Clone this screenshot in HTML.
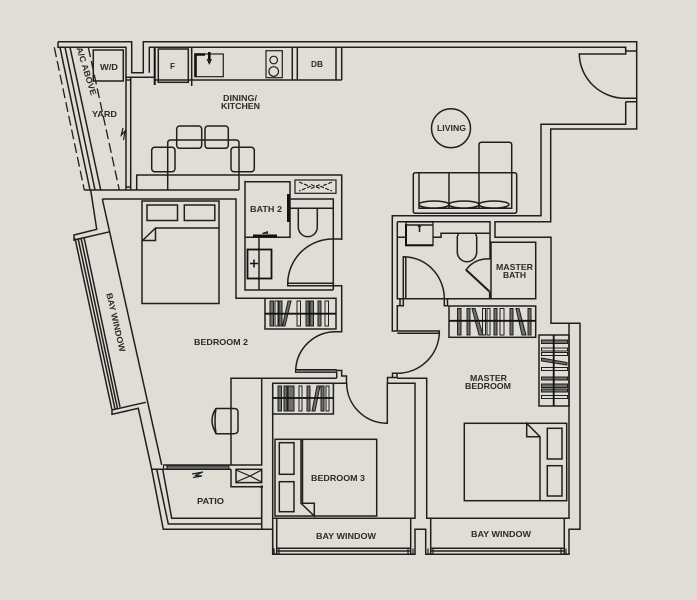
<!DOCTYPE html>
<html><head><meta charset="utf-8"><style>
html,body{margin:0;padding:0;background:#dfddd6;width:697px;height:600px;overflow:hidden}
svg{display:block}
.b{filter:blur(.3px)}
.l{fill:none;stroke:#1f1f1d;stroke-width:1.5}
.t{fill:none;stroke:#1f1f1d;stroke-width:1.2}
.k{fill:none;stroke:#111;stroke-width:2.6}
.d{fill:none;stroke:#1f1f1d;stroke-width:1.3;stroke-dasharray:10 4}
.h{fill:#6f6f6c;stroke:#1f1f1d;stroke-width:1}
.w{fill:none;stroke:#1f1f1d;stroke-width:1}
text{font-family:"Liberation Sans",sans-serif;font-size:8.5px;font-weight:bold;fill:#2b2b29}
</style></head><body>
<svg width="697" height="600" viewBox="0 0 697 600">
<rect width="697" height="600" fill="#dfddd6"/>
<g class="b">
<!-- outer wall -->
<path class="l" d="M58 41.7H131.7V72.7H143.3V41.7H636.7V129H550.7V221.7H495V237.3H551V323.3H580V529.3H569V554.3H425.7V529.3H415V554.3H272.7V529.3H261.7V486.7"/>
<path class="l" d="M58 41.7V47.3H126V77.3H154.7M149.3 72.7V47.3H625.7V54H579.3"/>
<path class="l" d="M579.3 53.3A46 45 0 0 0 625.7 98.3M625.7 98.3H636.7M625.7 101.7H636.7M625.7 47.3V51H636.7M625.7 101.7V124.3H541V215.7H392.3V331H397.3"/>
<!-- yard -->
<path class="d" d="M54.3 47.3L84.3 190"/>
<path class="d" d="M88.3 47.3L119.3 190"/>
<path class="l" d="M60 47.3L90 190M65 47.3L95 190M70 47.3L100.7 190"/>
<path class="l" d="M126 77.3V190M130.7 77.3V190M126 80H130.7M126 187H130.7M84.3 190H239"/>
<rect class="l" x="93.3" y="50" width="30" height="31"/>
<path class="t" d="M121 136L123 128L121.500 135L125 131L123.500 140"/>
<!-- kitchen -->
<path class="k" d="M154.700 48V85" style="stroke-width:2"/>
<path class="l" d="M155 80H341.700M341.700 47.300V80M191.700 47.300V86M292.300 47.300V80M297.300 47.300V80M336 47.300V80"/>
<rect class="l" x="158.300" y="49" width="30" height="33.300"/>
<rect class="t" x="195" y="54" width="28.300" height="22.700"/>
<path class="k" d="M195.500 76.700V54.500H205M209.300 52V63"/>
<path d="M206.500 59H212L209.300 65Z" fill="#222"/>
<rect class="t" x="266" y="50.700" width="16.300" height="27"/>
<circle class="t" cx="273.700" cy="60" r="3.800"/><circle class="t" cx="273.700" cy="71.500" r="4.800"/>
<!-- dining -->
<path class="l" d="M136.700 190V175H341.700V240M167.700 190V143Q167.700 140 170.700 140H236Q239 140 239 143V190"/>
<rect class="l" x="176.700" y="126" width="25" height="22.300" rx="3"/>
<rect class="l" x="205" y="126" width="23.300" height="22.300" rx="3"/>
<rect class="l" x="151.700" y="147.300" width="23.300" height="24.400" rx="3"/>
<rect class="l" x="231" y="147.300" width="23.300" height="24.400" rx="3"/>
<!-- living -->
<circle class="l" cx="451" cy="128.300" r="19.500"/>
<path class="l" d="M479 172.700V145Q479 142.300 481.500 142.300H509Q511.700 142.300 511.700 145V172.700"/>
<path class="l" d="M419 172.700H511.700M419 172.700V208.300H511.700V172.700M449 172.700V208.300M479 172.700V208.300M419 172.700H415.500Q413.300 172.700 413.300 175V211Q413.300 213.300 415.500 213.300H514.500Q516.700 213.300 516.700 211V175Q516.700 172.700 514.500 172.700H511.700"/>
<ellipse class="l" cx="434" cy="204.500" rx="15" ry="3.500"/><ellipse class="l" cx="464" cy="204.500" rx="15" ry="3.500"/><ellipse class="l" cx="494" cy="204.500" rx="15" ry="3.500"/>
<!-- bath 2 -->
<path class="l" d="M245 181.700H290V237.300H245M245 180.700V290H333.300M290.700 199H333.300V290M290.700 208.300H333.300M333.300 239H341.700"/>
<path class="k" d="M288.300 194V222M253 235.800H277"/>
<path d="M262 233L268 231L268 233.500H272L263 234Z" fill="#222"/>
<rect class="t" x="295" y="180" width="41" height="13.300"/>
<path class="t" d="M299 182L310 186.500L299 191M332 182L321 186.500L332 191M311 184.500L320 188.500M311 188.500L320 184.500" stroke-dasharray="4 1.500"/>
<path class="l" d="M298.300 208.300V227A9.500 9.700 0 0 0 317.300 227V208.300"/>
<path class="l" d="M259 237.300V290"/>
<rect x="247.500" y="249.500" width="24" height="29" fill="none" stroke="#111" stroke-width="1.800"/>
<path class="k" d="M250 263.500H258M254 259.500V267.500" style="stroke-width:1.500"/>
<path class="l" d="M333.300 239A45 45 0 0 0 287.700 283.300V285.700H333.300V283.300H287.700"/>
<path class="l" d="M333.300 285.700H341.700V331.700H334"/>
<!-- bedroom 2 -->
<path class="l" d="M102.300 199H236V298.300H265M102.300 199L161.700 465M90.700 190L96.700 229.300L74 235V240L110 231.700"/>
<path class="l" d="M75 238.300L112 410V414.300L138.300 408.300L151.700 469.300L163.300 529.300H261.700M111.700 410L146 402.300"/>
<path class="l" d="M78 238.300L115 409M81 238L117.500 408.500M84 237.400L120 407"/>
<path class="l" d="M156.700 469.300L168.300 524H261.700M162.700 469.300L171.700 518.300H261.700"/>
<path class="l" d="M151.700 469.300H231M163.300 465H231V378.300H336.700M231 465H261.700V378.300"/>
<path d="M167 466H229V469H167Z" fill="#6f6f6c" stroke="#1f1f1d" stroke-width=".8"/>
<path class="t" d="M163.500 465V469.300M167 465V469.300"/>
<path class="t" d="M192 474L203 472L195 475.500L202 476L193 477.500"/>
<path class="l" d="M231 469.300V486.700H261.700V518.300"/>
<rect class="l" x="236" y="469.300" width="25.700" height="13.300"/>
<path class="t" d="M236 470L250 476L236 482M261.700 470L250 476L261.700 482"/>
<rect x="260.500" y="485.500" width="2.500" height="2.500" fill="#222"/>
<rect class="l" x="142" y="201" width="77" height="102.500"/>
<rect class="l" x="147" y="205" width="30.500" height="15.500"/><rect class="l" x="184.300" y="205" width="30.500" height="15.500"/>
<path class="l" d="M142 241L155.500 228H219M142 240.500H155.500V228"/>
<!-- wardrobe bedroom 2 -->
<rect class="l" x="265" y="298.300" width="71" height="30.700"/>
<g>
<rect class="h" x="270" y="301" width="3.500" height="25"/><rect class="w" x="275" y="301" width="3" height="25"/><rect class="h" x="279" y="301" width="3" height="25"/>
<path class="h" d="M288 301L291 301L285 326L282.500 326Z"/><rect class="w" x="297" y="301" width="3.500" height="25"/><rect class="h" x="306" y="301" width="3" height="25"/><rect class="h" x="310" y="301" width="3.500" height="25"/><rect class="h" x="318" y="301" width="3" height="25"/><rect class="w" x="325" y="301" width="3.500" height="25"/>
</g>
<path class="k" d="M265 313.700H336" style="stroke-width:1.800"/>
<path class="l" d="M336 331.700A40 40 0 0 0 295.700 370V372.300H336V369.700H295.700"/>
<path d="M296 370.300H336V372.300H296Z" fill="#6f6f6c"/>
<path class="l" d="M336.700 372V378.300M336 370.500H341.700V376H346.500V383.300H272.700"/>
<!-- bedroom 2 chair -->
<path class="l" d="M216 408.500H234Q238 408.500 238 412V430Q238 433.700 234 433.700H216Q212 426 212 421Q212 414 216 408.500Z"/>
<path class="l" d="M216 408.500Q214 420 216 433.700"/>
<!-- bedroom 3 -->
<rect class="l" x="275" y="439.300" width="101.700" height="76.700"/>
<path class="l" d="M301 439.300V503.300L314.300 516V503.300H301"/>
<path class="l" d="M302.500 439.300V503"/>
<rect class="l" x="279.300" y="442.700" width="14.700" height="31.600"/><rect class="l" x="279.300" y="481.700" width="14.700" height="30"/>
<path class="l" d="M272.700 383.300V554.300M272.700 518.300H415V383.300H387.300V423.300H385"/>
<rect class="l" x="272.700" y="383.300" width="60.700" height="30.700"/>
<g>
<rect class="h" x="278" y="386" width="3.500" height="25"/><rect class="h" x="284" y="386" width="3" height="25"/><rect class="h" x="288" y="386" width="6" height="25"/><rect class="w" x="299" y="386" width="3" height="25"/><rect class="h" x="307" y="386" width="3" height="25"/><path class="h" d="M317 386H320L315 411H312Z"/><rect class="h" x="321" y="386" width="3" height="25"/><rect class="w" x="326" y="386" width="3" height="25"/>
</g>
<path class="k" d="M272.700 398H333.300" style="stroke-width:1.800"/>
<path class="l" d="M346.700 383.300A41 40 0 0 0 386.700 423.300"/>
<!-- bay windows bottom -->
<path class="l" d="M276.700 518.300V548.300H410.700V518.300M276.700 548.300V554M410.700 548.300V554M276.700 551H410.700M430.700 518.300V548.300H564.300V518.300M430.700 548.300V554M564.300 548.300V554M430.700 551H564.300"/>
<path class="t" d="M274 548.500V554H279V548.500M408 548.500V554H413V548.500M428 548.500V554H433V548.500M561 548.500V554H566V548.500"/>
<!-- master bath -->
<path class="l" d="M397.300 221.700H490V259M397.300 221.700V298.700H535.700V242.300H491V298.700M397.300 237.300H405.700M433.300 237.300H441V233.300H490M458 233.300V236M476 233.300V236"/>
<rect x="406" y="222" width="27" height="23.500" fill="none" stroke="#111" stroke-width="1.200"/>
<path class="k" d="M406 224V245.200H433" style="stroke-width:2"/>
<path class="l" d="M406 225H433"/>
<path d="M419 224L417.500 227H418.700V232H420.300V227H421.500Z" fill="#222"/>
<path class="l" d="M457.300 236V252A9.700 9.700 0 0 0 476.700 252V236"/>
<path class="l" d="M490 259A26 26 0 0 0 466 270L490 292.300"/>
<path class="l" d="M466.800 270.500L489 291" style="stroke-width:2"/>
<path class="l" d="M490 292.300V298.700" style="stroke-width:2.200"/>
<path class="l" d="M403.300 298V256.700H404A41 42 0 0 1 444.300 298.700"/>
<path class="l" d="M405.800 298V257"/>
<path class="l" d="M400 298.700V305.700H397.300V331M403.300 298.700V305.700H400M444.300 298.700V305.700H447.500V298.700"/>
<!-- master wardrobe -->
<rect class="l" x="449" y="306" width="86.700" height="31.300"/>
<g>
<rect class="h" x="457.500" y="308.500" width="3.500" height="26.500"/><rect class="h" x="467" y="308.500" width="3" height="26.500"/><path class="h" d="M472 308.500H475L483 335H479Z"/><rect class="w" x="482.500" y="308.500" width="3" height="26.500"/><rect class="w" x="487" y="308.500" width="3" height="26.500"/><rect class="h" x="494" y="308.500" width="3" height="26.500"/><rect class="w" x="500" y="308.500" width="4" height="26.500"/><rect class="h" x="510" y="308.500" width="3" height="26.500"/><path class="h" d="M516 308.500H519L526 335H522Z"/><rect class="h" x="528" y="308.500" width="3" height="26.500"/>
</g>
<path class="k" d="M449 320.800H535.700" style="stroke-width:1.800"/>
<rect class="l" x="539" y="335" width="30" height="71"/>
<g>
<rect class="h" x="541.500" y="340" width="26" height="3.500"/><rect class="w" x="541.500" y="348" width="26" height="3"/><rect class="w" x="541.500" y="352.500" width="26" height="3"/><path class="h" d="M541.500 358L567 362.500V365L541.500 361Z"/><rect class="w" x="541.500" y="367.500" width="26" height="3"/><rect class="h" x="541.500" y="377" width="26" height="3"/><rect class="h" x="541.500" y="384" width="26" height="3.500"/><rect class="h" x="541.500" y="389" width="26" height="3"/><rect class="w" x="541.500" y="395.500" width="26" height="3"/>
</g>
<path class="k" d="M553.700 335V406" style="stroke-width:1.800"/>
<!-- master door -->
<path class="l" d="M397.300 331H439.300V333.300H397.300M439.300 333.300A42 42 0 0 1 397 373.300H392.500V377.500H397V373.300M392.500 377.500H387.500V383.300H415M397 378.300H426.700V518.300H569V323.300"/>
<!-- master bed -->
<rect class="l" x="464.300" y="423.300" width="102.400" height="77.400"/>
<path class="l" d="M540 500.700V436.700L526.700 423.300V436.700H540"/>
<rect class="l" x="547.300" y="428.300" width="14.700" height="30.700"/><rect class="l" x="547.300" y="465.700" width="14.700" height="30.300"/>
<!-- labels -->
<text x="83.700" y="72" text-anchor="middle" transform="rotate(73 83.700 72)" textLength="50" lengthAdjust="spacingAndGlyphs">A/C ABOVE</text>
<text x="92" y="117" textLength="25" lengthAdjust="spacingAndGlyphs">YARD</text>
<text x="100" y="70" textLength="18" lengthAdjust="spacingAndGlyphs">W/D</text>
<text x="170" y="69" textLength="5" lengthAdjust="spacingAndGlyphs">F</text>
<text x="311" y="67" textLength="12" lengthAdjust="spacingAndGlyphs">DB</text>
<text x="223" y="101" textLength="34" lengthAdjust="spacingAndGlyphs">DINING/</text>
<text x="221" y="109" textLength="39" lengthAdjust="spacingAndGlyphs">KITCHEN</text>
<text x="437" y="131" textLength="29" lengthAdjust="spacingAndGlyphs">LIVING</text>
<text x="250" y="212" textLength="32" lengthAdjust="spacingAndGlyphs">BATH 2</text>
<text x="496" y="270" textLength="37" lengthAdjust="spacingAndGlyphs">MASTER</text>
<text x="503" y="278" textLength="23" lengthAdjust="spacingAndGlyphs">BATH</text>
<text x="470" y="381" textLength="37" lengthAdjust="spacingAndGlyphs">MASTER</text>
<text x="465" y="389" textLength="46" lengthAdjust="spacingAndGlyphs">BEDROOM</text>
<text x="194" y="345" textLength="54" lengthAdjust="spacingAndGlyphs">BEDROOM 2</text>
<text x="311" y="481" textLength="54" lengthAdjust="spacingAndGlyphs">BEDROOM 3</text>
<text x="197" y="504" textLength="27" lengthAdjust="spacingAndGlyphs">PATIO</text>
<text x="316" y="539" textLength="60" lengthAdjust="spacingAndGlyphs">BAY WINDOW</text>
<text x="471" y="537" textLength="60" lengthAdjust="spacingAndGlyphs">BAY WINDOW</text>
<text x="113" y="323" text-anchor="middle" transform="rotate(77 113 323)" textLength="60" lengthAdjust="spacingAndGlyphs">BAY WINDOW</text>
</g>
</svg>
</body></html>
